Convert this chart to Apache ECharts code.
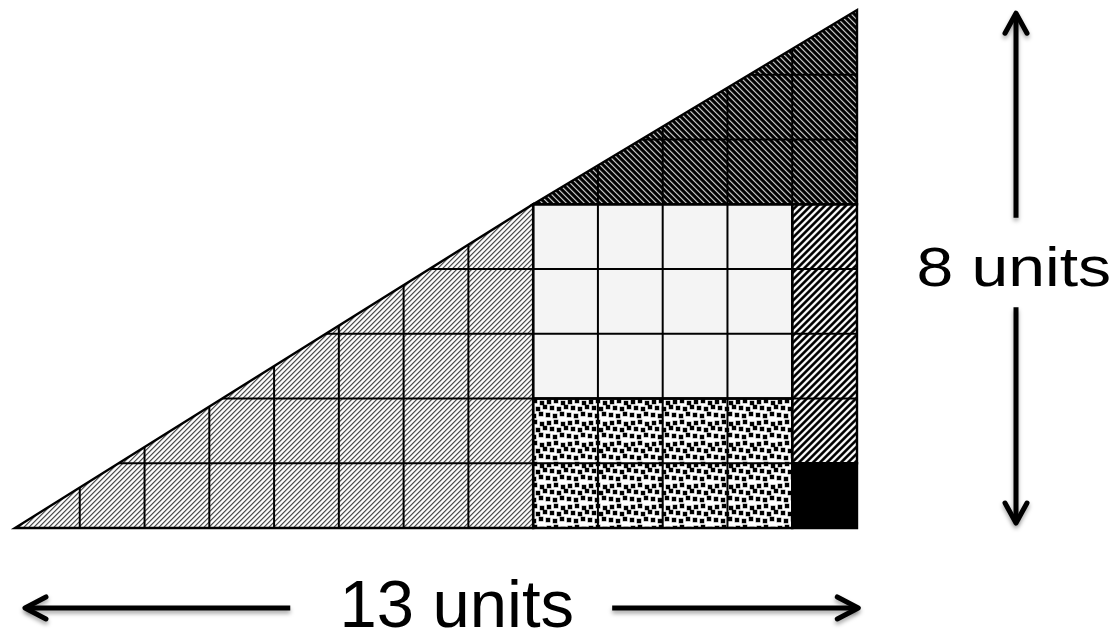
<!DOCTYPE html>
<html><head><meta charset="utf-8">
<script src="https://cdn.jsdelivr.net/npm/echarts@6/dist/echarts.min.js"></script>
<style>html,body{margin:0;padding:0;background:#fff}#c{width:1117px;height:636px}</style>
</head><body><div id="c"></div>
<script>
// ---- data ----
const pieceNames = ['large triangle', 'small triangle', 'light rectangle', 'dotted rectangle', 'striped strip', 'black square'];
const pieceVertices = [
  [[0, 0], [8, 0], [8, 5]],
  [[8, 5], [13, 5], [13, 8]],
  [[8, 2], [12, 2], [12, 5], [8, 5]],
  [[8, 0], [12, 0], [12, 2], [8, 2]],
  [[12, 1], [13, 1], [13, 5], [12, 5]],
  [[12, 0], [13, 0], [13, 1], [12, 1]]
];
const pieceFills = ['lightHatch', 'darkHatch', 'plain', 'dots', 'boldHatch', 'solid'];
const baseUnits = 13;
const heightUnits = 8;
const dimensionLabels = ['13 units', '8 units'];

// ---- patterns (style only) ----
function hatchTile(p, profile, rising) {
  const c = document.createElement('canvas'); c.width = p; c.height = p;
  const ctx = c.getContext('2d'); const img = ctx.createImageData(p, p);
  for (let j = 0; j < p; j++) for (let i = 0; i < p; i++) {
    const d = rising ? (i + j) % p : ((i - j) % p + p) % p;
    const v = profile[d]; const o = (j * p + i) * 4;
    img.data[o] = v; img.data[o + 1] = v; img.data[o + 2] = v; img.data[o + 3] = 255;
  }
  ctx.putImageData(img, 0, 0); return c;
}
function dotTile() {
  const c = document.createElement('canvas'); c.width = 21; c.height = 21;
  const ctx = c.getContext('2d'); ctx.fillStyle = '#fff'; ctx.fillRect(0, 0, 21, 21);
  const spots = [[1, 1], [8, 0], [15, 2], [4, 7], [11, 8], [18, 6], [0, 14], [7, 15], [14, 13]];
  spots.forEach(function (s) {
    for (let dx = -21; dx <= 21; dx += 21) for (let dy = -21; dy <= 21; dy += 21) {
      ctx.fillStyle = 'rgba(0,0,0,0.4)'; ctx.fillRect(s[0] + dx - 0.5, s[1] + dy - 0.5, 5, 5);
      ctx.fillStyle = '#000'; ctx.fillRect(s[0] + dx, s[1] + dy, 4, 4);
    }
  });
  return c;
}
const fillStyles = {
  lightHatch: { image: hatchTile(5, [80, 165, 245, 255, 215], true), repeat: 'repeat' },
  darkHatch: { image: hatchTile(6, [0, 0, 40, 190, 100, 10], false), repeat: 'repeat' },
  boldHatch: { image: hatchTile(7, [0, 0, 60, 225, 255, 225, 60], true), repeat: 'repeat' },
  dots: { image: dotTile(), repeat: 'repeat' },
  plain: '#f4f4f4',
  solid: '#000000'
};

function clipLine(poly, ai, k) {
  const oi = 1 - ai; const vals = [];
  for (let i = 0; i < poly.length; i++) {
    const a = poly[i], b = poly[(i + 1) % poly.length];
    if (a[ai] !== b[ai] && (a[ai] - k) * (b[ai] - k) <= 0) {
      const t = (k - a[ai]) / (b[ai] - a[ai]);
      vals.push(a[oi] + t * (b[oi] - a[oi]));
    }
  }
  if (vals.length < 2) return null;
  const lo = Math.min.apply(null, vals), hi = Math.max.apply(null, vals);
  return hi - lo > 1e-9 ? [lo, hi] : null;
}

const chart = echarts.init(document.getElementById('c'), null, { renderer: 'canvas' });
const lineStyle = { stroke: '#000', lineWidth: 2 };
const shadow = { shadowBlur: 4, shadowOffsetY: 3, shadowColor: 'rgba(0,0,0,0.35)' };

chart.setOption({
  backgroundColor: '#fff',
  animation: false,
  grid: { left: 15, top: 10, width: 842, height: 518 },
  xAxis: { type: 'value', min: 0, max: baseUnits, show: false },
  yAxis: { type: 'value', min: 0, max: heightUnits, show: false },
  series: [
    {
      type: 'custom', name: 'fills', clip: false,
      data: pieceNames.map(function (n, i) { return { name: n, value: [i] }; }),
      renderItem: function (params, api) {
        const i = api.value(0);
        const pts = pieceVertices[i].map(function (p) { return api.coord(p); });
        return { type: 'polygon', shape: { points: pts }, style: { fill: fillStyles[pieceFills[i]], stroke: null } };
      }
    },
    {
      type: 'custom', name: 'lines', clip: false,
      data: pieceNames.map(function (n, i) { return { name: n, value: [i] }; }),
      renderItem: function (params, api) {
        const i = api.value(0); const poly = pieceVertices[i];
        const xs = poly.map(function (p) { return p[0]; }), ys = poly.map(function (p) { return p[1]; });
        const children = [];
        for (let k = Math.floor(Math.min.apply(null, xs)) + 1; k < Math.max.apply(null, xs); k++) {
          const r = clipLine(poly, 0, k); if (!r) continue;
          const a = api.coord([k, r[0]]), b = api.coord([k, r[1]]);
          children.push({ type: 'line', shape: { x1: a[0], y1: a[1], x2: b[0], y2: b[1] }, style: lineStyle });
        }
        for (let k = Math.floor(Math.min.apply(null, ys)) + 1; k < Math.max.apply(null, ys); k++) {
          const r = clipLine(poly, 1, k); if (!r) continue;
          const a = api.coord([r[0], k]), b = api.coord([r[1], k]);
          children.push({ type: 'line', shape: { x1: a[0], y1: a[1], x2: b[0], y2: b[1] }, style: lineStyle });
        }
        const pts = poly.map(function (p) { return api.coord(p); });
        children.push({ type: 'polygon', shape: { points: pts }, style: { fill: null, stroke: '#000', lineWidth: 2.4, lineJoin: 'miter' } });
        return { type: 'group', children: children };
      }
    },
    {
      type: 'custom', name: 'dimensions', clip: false, silent: true,
      data: [[0]],
      renderItem: function (params, api) {
        const ch = [];
        const arrowStyle = Object.assign({ stroke: '#000', lineWidth: 5, fill: null, lineCap: 'round', lineJoin: 'round' }, shadow);
        // horizontal (base)
        const hy = -1.235;
        const lt = api.coord([0.154, hy]), le = api.coord([4.25, hy]);
        const rs = api.coord([9.22, hy]), rt = api.coord([baseUnits + 0.02, hy]);
        ch.push({ type: 'line', shape: { x1: lt[0] + 2, y1: lt[1], x2: le[0], y2: le[1] }, style: Object.assign({}, arrowStyle, { lineCap: 'butt' }) });
        ch.push({ type: 'polyline', shape: { points: [[lt[0] + 21, lt[1] - 11], lt, [lt[0] + 21, lt[1] + 11]] }, style: arrowStyle });
        ch.push({ type: 'line', shape: { x1: rs[0], y1: rs[1], x2: rt[0] - 2, y2: rt[1] }, style: Object.assign({}, arrowStyle, { lineCap: 'butt' }) });
        ch.push({ type: 'polyline', shape: { points: [[rt[0] - 21, rt[1] - 11], rt, [rt[0] - 21, rt[1] + 11]] }, style: arrowStyle });
        const tc = api.coord([6.82, -1.25]);
        ch.push({ type: 'text', x: tc[0], y: tc[1], style: { text: dimensionLabels[0], x: 0, y: 0, font: '67px "Liberation Sans", Arial, sans-serif', fill: '#000', align: 'center', textAlign: 'center', verticalAlign: 'middle', textVerticalAlign: 'middle' } });
        // vertical (height)
        const vx = 15.455;
        const ut = api.coord([vx, heightUnits - 0.05]), ue = api.coord([vx, 4.79]);
        const ds = api.coord([vx, 3.41]), dt = api.coord([vx, 0.077]);
        ch.push({ type: 'line', shape: { x1: ut[0], y1: ut[1] + 2, x2: ue[0], y2: ue[1] }, style: Object.assign({}, arrowStyle, { lineCap: 'butt' }) });
        ch.push({ type: 'polyline', shape: { points: [[ut[0] - 11, ut[1] + 20], ut, [ut[0] + 11, ut[1] + 20]] }, style: arrowStyle });
        ch.push({ type: 'line', shape: { x1: ds[0], y1: ds[1], x2: dt[0], y2: dt[1] - 2 }, style: Object.assign({}, arrowStyle, { lineCap: 'butt' }) });
        ch.push({ type: 'polyline', shape: { points: [[dt[0] - 11, dt[1] - 20], dt, [dt[0] + 11, dt[1] - 20]] }, style: arrowStyle });
        const vc = api.coord([15.42, 3.97]);
        ch.push({ type: 'text', x: vc[0], y: vc[1], scaleX: 1.18, style: { text: dimensionLabels[1], x: 0, y: 0, font: '56px "Liberation Sans", Arial, sans-serif', fill: '#000', align: 'center', textAlign: 'center', verticalAlign: 'middle', textVerticalAlign: 'middle' } });
        return { type: 'group', children: ch };
      }
    }
  ]
});
</script>
</body></html>
